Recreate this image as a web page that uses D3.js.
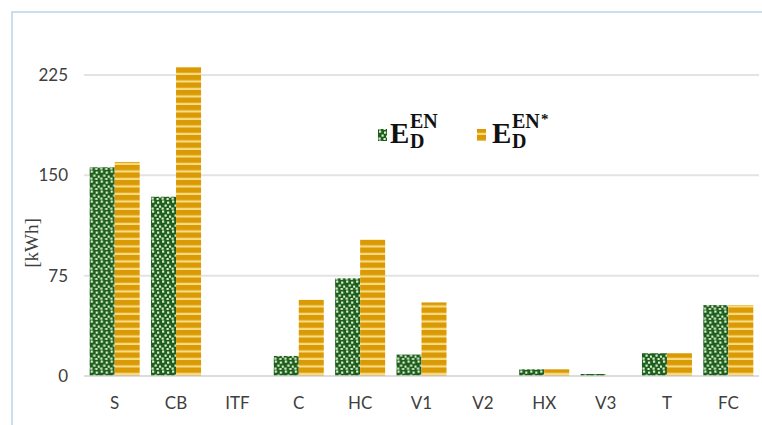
<!DOCTYPE html>
<html>
<head>
<meta charset="utf-8">
<script src="https://cdn.jsdelivr.net/npm/d3@7/dist/d3.min.js"></script>
<style>
  html, body { margin: 0; padding: 0; background: #fff; }
  svg { display: block; }
</style>
</head>
<body>
<svg id="chart" width="762" height="425"></svg>
<script>
// Component labels and the two energy series [kWh]
const categories = ["S", "CB", "ITF", "C", "HC", "V1", "V2", "HX", "V3", "T", "FC"];
const energyEN = [156, 134, 0, 15, 73, 16, 0, 5, 1.5, 17, 53];
const energyENStar = [160, 231, 0, 57, 102, 55, 0, 5, 0, 17, 53];
const yTicks = [0, 75, 150, 225];
const seriesKeys = ["en", "enStar"];

const svg = d3.select("#chart");
const W = 762, H = 425;
const plot = { left: 84, right: 759, top: 75, bottom: 376 };
const sans = "Lato, 'Open Sans', sans-serif";
const serif = "'Liberation Serif', 'DejaVu Serif', serif";

// Patterned fills
const defs = svg.append("defs");
const confetti = defs.append("pattern")
  .attr("id", "confetti").attr("patternUnits", "userSpaceOnUse")
  .attr("width", 10).attr("height", 10);
confetti.append("rect").attr("width", 10).attr("height", 10).attr("fill", "#1d5e1d");
[[1, 0.5], [6, 1.5], [3.5, 4.5], [8, 5.5], [0.5, 7.5], [5.5, 8]].forEach(([x, y]) => {
  confetti.append("rect").attr("x", x).attr("y", y)
    .attr("width", 2.2).attr("height", 2.2).attr("fill", "#dcefcf");
});
const stripes = defs.append("pattern")
  .attr("id", "stripes").attr("patternUnits", "userSpaceOnUse")
  .attr("width", 8).attr("height", 7.5);
stripes.append("rect").attr("width", 8).attr("height", 7.5).attr("fill", "#d99a06");
stripes.append("rect").attr("y", 5.3).attr("width", 8).attr("height", 2.2).attr("fill", "#f9db82");

// Outer frame
svg.append("rect")
  .attr("x", 12).attr("y", 12).attr("width", W + 20).attr("height", H + 20)
  .attr("fill", "none").attr("stroke", "#b9d3e8").attr("stroke-width", 1.5);

// Scales
const x0 = d3.scaleBand().domain(categories).range([plot.left, plot.right]).padding(0);
const y = d3.scaleLinear().domain([0, 225]).range([plot.bottom, plot.top]);
const barW = 25;
const x1 = d3.scaleBand().domain(seriesKeys).range([0, barW * 2]);

// Gridlines
svg.append("g").selectAll("line").data(yTicks.filter(t => t > 0)).join("line")
  .attr("x1", plot.left).attr("x2", plot.right)
  .attr("y1", d => y(d)).attr("y2", d => y(d))
  .attr("stroke", "#e3e3e3").attr("stroke-width", 2);

// Y axis labels
const yAxis = d3.axisLeft(y).tickValues(yTicks).tickSize(0).tickPadding(0);
const gy = svg.append("g").attr("transform", "translate(68,0)").call(yAxis);
gy.select(".domain").remove();
gy.selectAll("text")
  .attr("font-family", sans).attr("font-size", 17).attr("fill", "#404040");

// Y axis title
svg.append("text")
  .attr("transform", "translate(38,243) rotate(-90)")
  .attr("text-anchor", "middle")
  .attr("font-family", serif)
  .attr("font-size", 19).attr("fill", "#404040")
  .text("[kWh]");

// Bars
const rows = categories.map((c, i) => ({ c, en: energyEN[i], enStar: energyENStar[i] }));
const groups = svg.append("g").selectAll("g").data(rows).join("g")
  .attr("transform", d => `translate(${x0(d.c) + x0.bandwidth() / 2 - barW},0)`);
groups.selectAll("rect")
  .data(d => seriesKeys.map(k => ({ k, v: d[k] })))
  .join("rect")
  .attr("x", d => x1(d.k))
  .attr("width", x1.bandwidth())
  .attr("y", d => y(d.v))
  .attr("height", d => y(0) - y(d.v))
  .attr("fill", d => d.k === "en" ? "url(#confetti)" : "url(#stripes)");

// Baseline
svg.append("line")
  .attr("x1", plot.left).attr("x2", plot.right)
  .attr("y1", y(0)).attr("y2", y(0))
  .attr("stroke", "#d0d0d0").attr("stroke-width", 1.5);

// X axis labels
const xAxis = d3.axisBottom(x0).tickSize(0).tickPadding(0);
const gx = svg.append("g").attr("transform", `translate(0,${y(0) + 21})`).call(xAxis);
gx.select(".domain").remove();
gx.selectAll("text")
  .attr("font-family", sans).attr("font-size", 17).attr("fill", "#404040");

// Legend
const legend = [
  { fill: "url(#confetti)", x: 378, sup: "EN", star: false },
  { fill: "url(#stripes)", x: 477, sup: "EN", star: true }
];
const lg = svg.append("g").selectAll("g").data(legend).join("g")
  .attr("transform", d => `translate(${d.x},0)`);
lg.append("rect").attr("x", 0).attr("y", 129).attr("width", 9).attr("height", 12)
  .attr("fill", d => d.fill);
lg.append("text").attr("x", d => d.star ? 15 : 12).attr("y", 143)
  .attr("font-family", serif).attr("font-weight", "bold").attr("font-size", 29)
  .attr("fill", "#111").text("E");
lg.append("text").attr("x", d => d.star ? 35 : 32).attr("y", 128)
  .attr("font-family", serif).attr("font-weight", "bold").attr("font-size", 20)
  .attr("fill", "#111").text(d => d.sup);
lg.append("text").attr("x", d => d.star ? 35 : 32).attr("y", 148)
  .attr("font-family", serif).attr("font-weight", "bold").attr("font-size", 20)
  .attr("fill", "#111").text("D");
lg.filter(d => d.star).append("text").attr("x", 64).attr("y", 124)
  .attr("font-family", serif).attr("font-weight", "bold").attr("font-size", 15)
  .attr("fill", "#111").text("*");
</script>
</body>
</html>
